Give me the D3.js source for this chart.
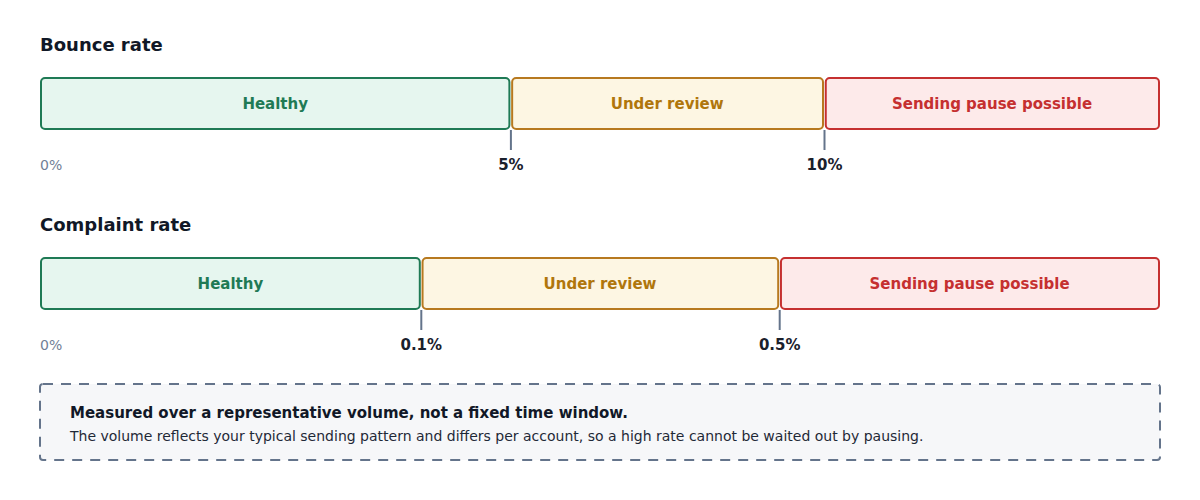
<!DOCTYPE html>
<html>
<head>
<meta charset="utf-8">
<script src="https://cdn.jsdelivr.net/npm/d3@7"></script>
<style>
  body { margin: 0; background: #ffffff; }
  svg text { font-family: "DejaVu Sans", sans-serif; }
</style>
</head>
<body>
<div id="chart"></div>
<script>
// band layout weights (share of the track) and threshold labels
const bandNames = ["Healthy", "Under review", "Sending pause possible"];
const bounceWeights = [42, 28, 30];
const complaintWeights = [34, 32, 34];
const bounceTicks = ["0%", "5%", "10%"];
const complaintTicks = ["0%", "0.1%", "0.5%"];
const metricTitles = ["Bounce rate", "Complaint rate"];

const noteTitle = "Measured over a representative volume, not a fixed time window.";
const noteText = "The volume reflects your typical sending pattern and differs per account, so a high rate cannot be waited out by pausing.";

const bandFill = ["#e6f6ef", "#fdf6e3", "#fdeaea"];
const bandStroke = ["#1f7a55", "#b7791f", "#c53030"];
const bandText = ["#1f7a55", "#b0760c", "#c53030"];

const width = 1200;
const height = 500;
const margin = { left: 40, right: 40 };

document.addEventListener("DOMContentLoaded", setup)

function setup() {
  const svg = d3.select("#chart").append("svg")
    .attr("width", width)
    .attr("height", height)

  renderRow(svg, metricTitles[0], bounceWeights, bounceTicks, 0)
  renderRow(svg, metricTitles[1], complaintWeights, complaintTicks, 180)
  renderNote(svg, 384)
}

function renderRow(svg, title, weights, ticks, top) {
  const cum = [0];
  weights.forEach(w => cum.push(cum[cum.length - 1] + w));
  const x = d3.scaleLinear()
    .domain([0, cum[cum.length - 1]])
    .range([margin.left, width - margin.right]);

  const g = svg.append("g")
    .attr("transform", `translate(0,${top})`)

  g.append("text")
    .attr("x", margin.left)
    .attr("y", 51)
    .attr("font-size", 18)
    .attr("font-weight", "bold")
    .attr("fill", "#111827")
    .text(title)

  const bands = weights.map((w, i) => ({ name: bandNames[i], x0: cum[i], x1: cum[i + 1], i: i }));

  g.selectAll("rect.band")
    .data(bands)
    .enter()
    .append("rect")
    .attr("class", "band")
    .attr("x", d => x(d.x0) + (d.i > 0 ? 1.75 : 1))
    .attr("y", 78)
    .attr("width", d => x(d.x1) - x(d.x0) - (d.i > 0 ? 2.75 : 2))
    .attr("height", 51)
    .attr("rx", 4)
    .attr("fill", d => bandFill[d.i])
    .attr("stroke", d => bandStroke[d.i])
    .attr("stroke-width", 2)

  g.selectAll("text.band")
    .data(bands)
    .enter()
    .append("text")
    .attr("class", "band")
    .attr("x", d => (x(d.x0) + x(d.x1)) / 2)
    .attr("y", 108.5)
    .attr("text-anchor", "middle")
    .attr("font-size", 15)
    .attr("font-weight", "bold")
    .attr("fill", d => bandText[d.i])
    .text(d => d.name)

  // threshold markers at band boundaries
  const marks = ticks.map((t, i) => ({ label: t, pos: cum[i], i: i }));

  g.selectAll("line.tick")
    .data(marks.filter(d => d.i > 0))
    .enter()
    .append("line")
    .attr("class", "tick")
    .attr("x1", d => x(d.pos) + 0.5)
    .attr("x2", d => x(d.pos) + 0.5)
    .attr("y1", 130)
    .attr("y2", 150)
    .attr("stroke", "#64748b")
    .attr("stroke-width", 2)

  g.selectAll("text.tick")
    .data(marks)
    .enter()
    .append("text")
    .attr("class", "tick")
    .attr("x", d => d.i === 0 ? x(d.pos) : x(d.pos) + 0.5)
    .attr("y", 170)
    .attr("text-anchor", d => d.i === 0 ? "start" : "middle")
    .attr("font-size", d => d.i === 0 ? 14 : 15)
    .attr("font-weight", d => d.i === 0 ? "normal" : "bold")
    .attr("fill", d => d.i === 0 ? "#718096" : "#1a202c")
    .text(d => d.label)
}

function renderNote(svg, top) {
  const g = svg.append("g")
    .attr("transform", `translate(0,${top})`)

  g.append("rect")
    .attr("x", margin.left)
    .attr("y", 0)
    .attr("width", width - margin.left - margin.right)
    .attr("height", 76)
    .attr("rx", 3)
    .attr("fill", "#f6f7f9")
    .attr("stroke", "#64748b")
    .attr("stroke-width", 2)
    .attr("stroke-dasharray", "10,8")

  g.append("text")
    .attr("x", 70)
    .attr("y", 34)
    .attr("font-size", 15)
    .attr("font-weight", "bold")
    .attr("fill", "#111827")
    .text(noteTitle)

  g.append("text")
    .attr("x", 70)
    .attr("y", 57)
    .attr("font-size", 14)
    .attr("fill", "#1f2937")
    .text(noteText)
}
</script>
</body>
</html>
